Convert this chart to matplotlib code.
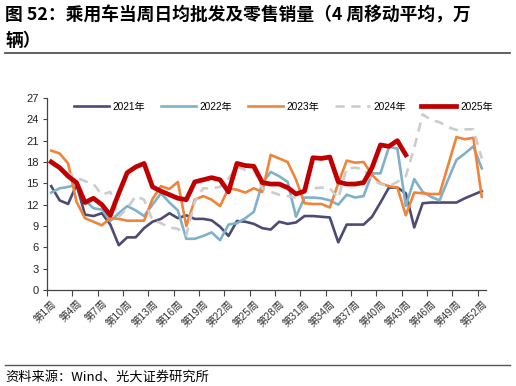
import numpy as np
import matplotlib.pyplot as plt
from matplotlib.lines import Line2D

plt.rcParams['font.family'] = ['Liberation Sans', 'Noto Sans CJK SC']

weeks = np.arange(1, 53)
week_labels = ['第%d周' % w for w in range(1, 53, 3)]

y2021 = [14.6, 12.6, 12.1, 14.8, 10.6, 10.4, 10.8, 9.2, 6.3, 7.4, 7.4, 8.7, 9.6, 10.0,
         10.8, 10.1, 10.5, 10.0, 10.0, 9.8, 8.9, 7.6, 9.7, 9.6, 9.3, 8.7, 8.5, 9.6, 9.3,
         9.5, 10.4, 10.4, 10.3, 10.2, 6.7, 9.2, 9.2, 9.2, 10.3, 12.3, 14.4, 14.4, 13.6,
         8.8, 12.2, 12.3, 12.3, 12.3, 12.3, 12.9, 13.4, 13.9]
y2022 = [13.7, 14.3, 14.5, 14.8, 12.6, 11.5, 11.3, 9.7, 10.8, 11.8, 11.2, 10.4, 12.0, 13.6,
         12.3, 11.2, 7.2, 7.2, 7.6, 8.1, 7.0, 9.2, 9.4, 10.1, 11.0, 15.0, 16.6, 16.0, 15.2,
         10.3, 13.0, 13.0, 12.9, 12.6, 12.0, 13.4, 13.0, 13.2, 16.4, 16.4, 20.1, 19.9, 11.8,
         15.6, 13.8, 13.1, 12.6, 15.5, 18.3, 19.2, 20.2, 17.1]
y2023 = [19.6, 19.2, 17.8, 12.4, 10.1, 9.6, 9.1, 10.1, 10.0, 9.75, 9.75, 9.75, 12.8, 14.6,
         14.2, 15.2, 9.0, 12.7, 13.2, 12.7, 11.8, 14.3, 14.1, 13.7, 14.3, 13.8, 19.0, 18.5,
         18.0, 15.5, 12.2, 12.1, 12.1, 11.6, 15.0, 18.2, 17.9, 18.0, 16.2, 15.0, 14.6, 14.4,
         10.5, 13.7, 13.6, 13.5, 13.5, 17.5, 21.5, 21.2, 21.4, 13.1]
y2024 = [17.7, 17.2, 16.4, 15.8, 15.3, 14.9, 13.4, 13.8, 10.3, 11.5, 13.2, 12.7, 9.8, 9.4,
         8.8, 8.6, 7.7, 12.4, 14.3, 14.3, 14.5, 15.7, 17.3, 16.9, 16.9, 14.3, 13.8, 13.4,
         13.2, 13.0, 14.2, 14.3, 14.4, 14.3, 12.9, 17.1, 17.2, 17.0, 15.5, 14.9, 14.6, 15.2,
         16.0, 20.0, 24.7, 23.9, 23.6, 22.9, 22.5, 22.6, 22.6, 18.5]
y2025 = [18.0, 17.2, 16.0, 15.1, 12.3, 12.9, 12.0, 10.5, 13.6, 16.5, 17.3, 17.8, 14.5, 13.9,
         13.4, 12.9, 12.7, 15.2, 15.5, 15.8, 15.5, 13.8, 17.8, 17.5, 17.4, 15.1, 14.9, 14.9,
         14.4, 13.5, 13.9, 18.6, 18.5, 18.7, 15.2, 14.9, 14.9, 15.1, 17.2, 20.4, 20.2, 21.0,
         19.0]

fig = plt.figure(figsize=(5.16, 3.86), dpi=100)
ax = fig.add_axes([47 / 516, 1 - 290 / 386, 439 / 516, 192 / 386])

ax.plot(weeks, y2021, color='#4d4b73', lw=1.9, label='2021年')
ax.plot(weeks, y2022, color='#80b1c9', lw=1.9, label='2022年')
ax.plot(weeks, y2023, color='#f0843a', lw=1.9, label='2023年')
ax.plot(weeks, y2024, color='#cccccc', lw=1.9, ls=(0, (3.5, 2.5)), label='2024年')
ax.plot(weeks[:len(y2025)], y2025, color='#c00000', lw=3.4, label='2025年')

ax.set_xlim(0.5, 52.5)
ax.set_ylim(0, 27)
ax.set_yticks(range(0, 28, 3))
ax.set_xticks(range(1, 53, 3))
ax.set_xticklabels(week_labels, rotation=45, ha='right', va='top',
                   rotation_mode='anchor', fontsize=7.5, color='#333333',
                   family=['Liberation Sans', 'Noto Sans CJK SC'])
ax.set_xticks(np.arange(0.5, 52, 3), minor=True)
ax.tick_params(axis='x', which='major', length=0, pad=6)
ax.tick_params(axis='x', which='minor', length=4, width=0.8, color='#444444', direction='out')
ax.tick_params(axis='y', length=3, width=0.8, color='#444444', labelsize=8, pad=3,
               labelcolor='#222222')
for s in ['top', 'right']:
    ax.spines[s].set_visible(False)
for s in ['left', 'bottom']:
    ax.spines[s].set_color('#444444')
    ax.spines[s].set_linewidth(0.9)

leg = ax.legend(loc='center', bbox_to_anchor=(283.5 / 516, 1 - 107 / 386),
                bbox_transform=fig.transFigure, ncol=5, frameon=False,
                fontsize=7.3, handlelength=3.45, columnspacing=1.5, handletextpad=0.4)

fig.text(5 / 516, 1 - 15 / 386, '图 52：乘用车当周日均批发及零售销量（4 周移动平均，万',
         fontsize=12.8, fontweight='bold', family='Noto Sans CJK SC', va='center', ha='left')
fig.text(5 / 516, 1 - 41 / 386, '辆）',
         fontsize=12.8, fontweight='bold', family='Noto Sans CJK SC', va='center', ha='left')
fig.add_artist(Line2D([5 / 516, 510 / 516], [1 - 53 / 386, 1 - 53 / 386],
                      color='#555555', lw=1.3, transform=fig.transFigure))
fig.add_artist(Line2D([5 / 516, 510 / 516], [1 - 365 / 386, 1 - 365 / 386],
                      color='#555555', lw=1.0, transform=fig.transFigure))
fig.text(5 / 516, 1 - 377 / 386, '资料来源：Wind、光大证券研究所',
         fontsize=9.5, family='Noto Sans CJK SC', va='center', ha='left')

fig.savefig('out.png', dpi=100)
